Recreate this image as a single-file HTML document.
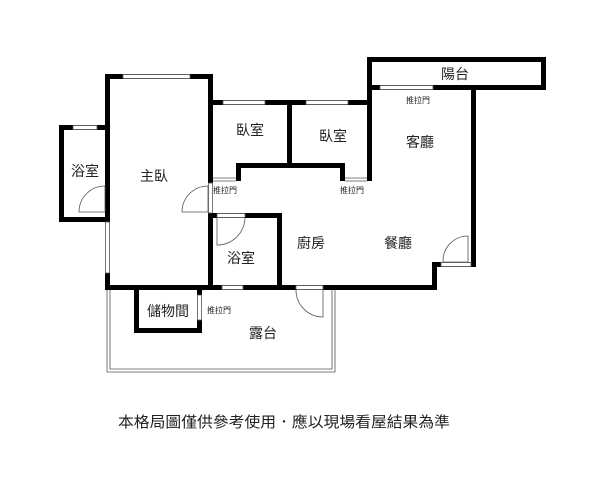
<!DOCTYPE html>
<html><head><meta charset="utf-8"><style>
html,body{margin:0;padding:0;background:#fff;}
svg{display:block;}
text{font-family:"Liberation Sans","Noto Sans CJK TC",sans-serif;fill:#222;}
</style></head><body>
<svg width="609" height="480" viewBox="0 0 609 480" xmlns="http://www.w3.org/2000/svg">
<g fill="#000">
<!-- master bedroom -->
<rect x="105" y="74" width="108" height="5"/>
<rect x="105" y="74" width="5" height="148"/>
<rect x="105" y="273" width="5" height="17"/>
<rect x="208" y="74" width="5" height="109"/>
<rect x="208" y="213" width="5" height="77"/>
<rect x="105" y="285" width="332" height="5"/>
<!-- left bath -->
<rect x="59" y="125" width="51" height="5"/>
<rect x="59" y="125" width="5" height="97"/>
<rect x="59" y="217" width="51" height="5"/>
<!-- bedrooms -->
<rect x="208" y="100" width="164" height="5"/>
<rect x="287" y="100" width="5" height="68"/>
<rect x="367" y="57" width="5" height="124"/>
<rect x="236" y="163" width="109" height="5"/>
<rect x="236" y="163" width="5" height="18"/>
<rect x="340" y="163" width="5" height="18"/>
<!-- balcony top -->
<rect x="367" y="57" width="179" height="5"/>
<rect x="541" y="57" width="5" height="33"/>
<rect x="367" y="85" width="179" height="5"/>
<rect x="471" y="85" width="5" height="181"/>
<rect x="432" y="262" width="44" height="5"/>
<rect x="432" y="262" width="5" height="28"/>
<!-- bath2 -->
<rect x="208" y="213" width="74" height="5"/>
<rect x="277" y="213" width="5" height="77"/>
<!-- storage -->
<rect x="134" y="290" width="5" height="43"/>
<rect x="134" y="328" width="68" height="5"/>
<rect x="197" y="290" width="5" height="5"/>
<rect x="197" y="320" width="5" height="13"/>
</g>
<g fill="#fff" stroke="#555" stroke-width="0.8">
<!-- windows -->
<rect x="123" y="74.5" width="67" height="4"/>
<rect x="73" y="125.5" width="24" height="4"/>
<rect x="223" y="100.5" width="42" height="4"/>
<rect x="306" y="100.5" width="42" height="4"/>
<rect x="380" y="85.5" width="53" height="4"/>
<rect x="222" y="285.5" width="21" height="4"/>
<rect x="296" y="285.5" width="27" height="4"/>
<rect x="217" y="213.5" width="28" height="4"/>
<rect x="441" y="262.5" width="30" height="4"/>
<rect x="105.5" y="222" width="4" height="51"/>
<rect x="208.5" y="183" width="4" height="30"/>
<rect x="197.5" y="295" width="4" height="25"/>
<rect x="64" y="178" width="0" height="0"/>
</g>
<g fill="none" stroke="#555" stroke-width="0.8">
<line x1="213" y1="178" x2="236" y2="178"/>
<line x1="213" y1="181" x2="236" y2="181"/>
<line x1="345" y1="178" x2="367" y2="178"/>
<line x1="345" y1="181" x2="367" y2="181"/>
<!-- doors -->
<path d="M105 186 A26 26 0 0 0 79 212 L105 212 Z"/>
<path d="M208 186 A26 26 0 0 0 182 212 L208 212 Z"/>
<path d="M217 218 L217 245 A28 28 0 0 0 245 218"/>
<path d="M468 236 A25 25 0 0 0 443 262 L468 262 Z"/>
<path d="M323 290 L323 317 A27 27 0 0 1 296 290"/>
<!-- terrace -->
<path d="M107 290 L107 372 L335 372 L335 290"/>
<path d="M110 290 L110 369 L332 369 L332 290"/>
</g>
<g font-size="14" text-anchor="middle">
<text x="455" y="79">陽台</text>
<text x="420" y="147">客廳</text>
<text x="250" y="135">臥室</text>
<text x="333" y="141">臥室</text>
<text x="85" y="176">浴室</text>
<text x="154" y="181">主臥</text>
<text x="311" y="248">廚房</text>
<text x="398" y="248">餐廳</text>
<text x="241" y="263">浴室</text>
<text x="168" y="316">儲物間</text>
<text x="263" y="338">露台</text>
</g>
<g font-size="8" text-anchor="middle" fill="#333">
<text x="418" y="103">推拉門</text>
<text x="225" y="193">推拉門</text>
<text x="352" y="193">推拉門</text>
<text x="219" y="313">推拉門</text>
</g>
<text x="118" y="427" font-size="15" textLength="332" lengthAdjust="spacingAndGlyphs">本格局圖僅供參考使用．應以現場看屋結果為準</text>
</svg>
</body></html>
